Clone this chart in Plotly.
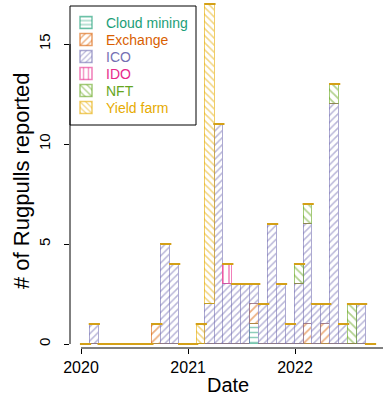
import pandas as pd
import plotly.graph_objects as go

# ---- data: monthly counts, Jan 2020 .. Sep 2022 ----
months = pd.date_range("2020-01-01", periods=33, freq="MS")
categories = ["Cloud mining", "Exchange", "ICO", "IDO", "NFT", "Yield farm"]

cloud_mining = [0,0,0,0,0,0,0,0,0,0,0,0, 0,0,0,0,0,0,0,1,0,0,0,0, 0,0,0,0,0,0,0,0,0]
exchange     = [0,0,0,0,0,0,0,0,1,0,0,0, 0,0,0,0,0,0,0,1,0,0,0,0, 0,1,0,1,0,0,0,0,0]
ico          = [0,1,0,0,0,0,0,0,0,5,4,0, 0,0,2,11,3,3,3,1,2,6,3,1, 3,5,2,1,12,1,0,2,0]
ido          = [0,0,0,0,0,0,0,0,0,0,0,0, 0,0,0,0,1,0,0,0,0,0,0,0, 0,0,0,0,0,0,0,0,0]
nft          = [0,0,0,0,0,0,0,0,0,0,0,0, 0,0,0,0,0,0,0,0,0,0,0,0, 1,1,0,0,1,0,2,0,0]
yield_farm   = [0,0,0,0,0,0,0,0,0,0,0,0, 0,1,15,0,0,0,0,0,0,0,0,0, 0,0,0,0,0,0,0,0,0]

series = [cloud_mining, exchange, ico, ido, nft, yield_farm]
colors = ["#1B9E77", "#D95F02", "#7570B3", "#E7298A", "#66A61E", "#E6AB02"]
shapes_pat = ["-", "/", "/", "|", "\\", "\\"]
pat_size = [5, 6, 5, 6, 6, 5]

year_ticks = ["2020-01-01", "2021-01-01", "2022-01-01"]
year_labels = ["2020", "2021", "2022"]
y_ticks = [0, 5, 10, 15]

# ---- geometry derived from the monthly bins ----
ends = months + pd.offsets.MonthBegin(1)
mids = months + (ends - months) / 2
widths = [(e - s).total_seconds() * 1000 for s, e in zip(months, ends)]
totals = [sum(v) for v in zip(*series)]

PLOT_H = 348.0
PLOT_W = 313.0

def rgba(h, a):
    h = h.lstrip("#")
    return "rgba(%d,%d,%d,%.2f)" % (int(h[0:2], 16), int(h[2:4], 16), int(h[4:6], 16), a)

legend_rows_px = [23, 40, 57, 74, 91, 108]

fig = go.Figure()
layout_legends = {}
for i, (name, vals, col, sh, ps) in enumerate(zip(categories, series, colors, shapes_pat, pat_size)):
    lg = "legend" if i == 0 else "legend%d" % (i + 1)
    fig.add_trace(go.Bar(
        x=mids, y=vals, width=widths,
        name="<span style='color:%s'>%s</span>" % (col, name),
        legend=lg,
        marker=dict(
            color="white",
            line=dict(color=rgba(col, 0.6), width=1.5),
            pattern=dict(shape=sh, fgcolor=col, bgcolor="white", size=ps, solidity=0.3),
        ),
    ))
    layout_legends[lg] = dict(
        x=-4 / PLOT_W, y=1 - legend_rows_px[i] / PLOT_H,
        xanchor="left", yanchor="middle",
        bgcolor="rgba(0,0,0,0)", borderwidth=0,
        font=dict(size=14), itemwidth=30,
    )

# gold cap drawn at the top of every monthly bin (incl. empty ones)
fig.add_trace(go.Scatter(
    x=mids, y=totals, mode="markers", showlegend=False, hoverinfo="skip",
    marker=dict(symbol="line-ew", size=8, line=dict(color="#D4A017", width=2)),
))

x_start = pd.Timestamp("2020-01-01") - pd.Timedelta(days=37.6)
x_end = pd.Timestamp("2020-01-01") + pd.Timedelta(days=1031.6)

fig.update_layout(
    width=383, height=401,
    margin=dict(l=70, r=0, t=0, b=53),
    barmode="stack", bargap=0,
    plot_bgcolor="white", paper_bgcolor="white",
    font=dict(family="Liberation Sans, Arial, sans-serif", color="black"),
    xaxis=dict(
        type="date", range=[x_start, x_end],
        tickmode="array", tickvals=year_ticks, ticktext=year_labels,
        ticks="outside", ticklen=5, tickcolor="black", tickwidth=1,
        tickfont=dict(size=16), showgrid=False, showline=False, zeroline=False,
        ticklabelstandoff=0,
    ),
    yaxis=dict(
        range=[-0.2, 17.2], tickmode="array", tickvals=y_ticks,
        ticks="outside", ticklen=5, tickcolor="black", tickwidth=1,
        tickangle=-90, tickfont=dict(size=15), ticklabelstandoff=8,
        showgrid=False, showline=False, zeroline=False,
    ),
    showlegend=True,
    hovermode=False,
    shapes=[
        dict(type="rect", xref="paper", yref="paper",
             x0=0, x1=126 / PLOT_W, y0=1 - 125 / PLOT_H, y1=1 - 6 / PLOT_H,
             line=dict(color="black", width=1), fillcolor="white", layer="above"),
        dict(type="line", xref="paper", yref="y", x0=0, x1=0, y0=y_ticks[0], y1=y_ticks[-1],
             line=dict(color="black", width=1)),
        dict(type="line", xref="x", yref="paper", x0=year_ticks[0], x1=x_end,
             y0=0, y1=0, line=dict(color="black", width=1)),
    ],
    annotations=[
        dict(text="# of Rugpulls reported", xref="paper", yref="paper",
             x=(22 - 70) / PLOT_W, y=1 - 181 / PLOT_H, textangle=-90, showarrow=False,
             font=dict(size=22), xanchor="center", yanchor="middle"),
        dict(text="Date", xref="paper", yref="paper",
             x=(228 - 70) / PLOT_W, y=-(385 - PLOT_H) / PLOT_H, showarrow=False,
             font=dict(size=20), xanchor="center", yanchor="middle"),
    ],
)
fig.update_layout(**layout_legends)

fig.write_html("out.html", config={"displayModeBar": False},
               post_script="document.body.style.margin='0';")
